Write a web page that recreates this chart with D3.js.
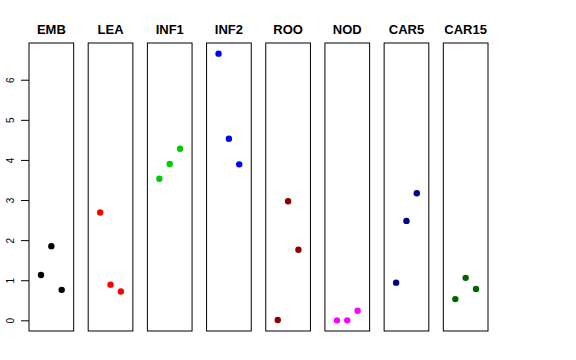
<!DOCTYPE html>
<html>
<head>
<meta charset="utf-8">
<script src="https://cdn.jsdelivr.net/npm/d3@7"></script>
<style>
  body { margin: 0; background: #fff; }
  svg { display: block; font-family: "Liberation Sans", Arial, Helvetica, sans-serif; }
</style>
</head>
<body>
<svg id="chart" width="576" height="360"></svg>
<script>
// groups and their three values (plotted at x = 1, 2, 3)
const groups = ["EMB", "LEA", "INF1", "INF2", "ROO", "NOD", "CAR5", "CAR15"];
const colors = ["#000000", "#FF0000", "#00CD00", "#0000FF", "#8B0000", "#FF00FF", "#00008B", "#006400"];
const EMB = [1.13, 1.85, 0.76];
const LEA = [2.69, 0.89, 0.72];
const INF1 = [3.53, 3.90, 4.28];
const INF2 = [6.65, 4.53, 3.89];
const ROO = [0.01, 2.97, 1.76];
const NOD = [0.00, 0.00, 0.24];
const CAR5 = [0.94, 2.48, 3.17];
const CAR15 = [0.53, 1.06, 0.78];
const yTicks = [0, 1, 2, 3, 4, 5, 6];

const values = [EMB, LEA, INF1, INF2, ROO, NOD, CAR5, CAR15];

const svg = d3.select("#chart"),
      margin = { top: 43, bottom: 29, left: 29, right: 88 },
      width = +svg.attr("width"),
      height = +svg.attr("height");

// one panel per group
const panel = d3.scaleBand()
  .domain(groups)
  .range([margin.left, width - margin.right])
  .paddingInner(0.245);

const y = d3.scaleLinear()
  .domain([-0.266, 6.916])
  .range([height - margin.bottom, margin.top]);

const x = d3.scaleLinear()
  .domain([-0.16, 4.16])
  .range([0, panel.bandwidth()]);

//y axis on the first panel, labels turned sideways
const yAxis = svg.append("g")
  .attr("transform", `translate(${margin.left},0)`)
  .call(d3.axisLeft(y).tickValues(yTicks).tickSize(8).tickFormat(d3.format("d")));
yAxis.select(".domain").remove();
yAxis.selectAll("line").attr("stroke", "#000");
yAxis.selectAll("text")
  .attr("x", 0).attr("y", 0).attr("dy", null)
  .attr("transform", "translate(-15,0) rotate(-90)")
  .attr("text-anchor", "middle")
  .attr("font-size", 10)
  .attr("font-family", "Liberation Sans, Arial, sans-serif")
  .attr("fill", "#000");

const g = svg.selectAll("g.panel")
  .data(groups)
  .join("g")
  .attr("class", "panel")
  .attr("transform", d => `translate(${panel(d)},0)`);

g.append("rect")
  .attr("x", 0)
  .attr("y", margin.top)
  .attr("width", panel.bandwidth())
  .attr("height", height - margin.bottom - margin.top)
  .attr("fill", "none")
  .attr("stroke", "#000")
  .attr("stroke-width", 1);

g.append("text")
  .attr("x", panel.bandwidth() / 2)
  .attr("y", 34)
  .attr("text-anchor", "middle")
  .attr("font-weight", "bold")
  .attr("font-size", 13)
  .text(d => d);

g.each(function (name, i) {
  d3.select(this).selectAll("circle")
    .data(values[i])
    .join("circle")
    .attr("cx", (d, j) => x(j + 1))
    .attr("cy", d => y(d))
    .attr("r", 3.2)
    .attr("fill", colors[i]);
});
</script>
</body>
</html>
